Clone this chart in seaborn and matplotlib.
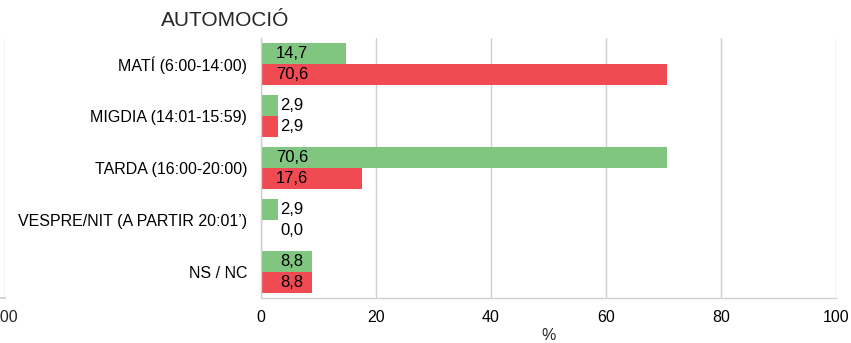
import pandas as pd
import matplotlib.pyplot as plt
import seaborn as sns

# Data
franges = ['MATÍ (6:00-14:00)', 'MIGDIA (14:01-15:59)', 'TARDA (16:00-20:00)',
           'VESPRE/NIT (A PARTIR 20:01’)', 'NS / NC']
serie_a = [14.7, 2.9, 70.6, 2.9, 8.8]
serie_b = [70.6, 2.9, 17.6, 0.0, 8.8]
noms_series = ['Sèrie A', 'Sèrie B']
colors = ['#80C580', '#F04B53']

df = pd.DataFrame({
    'franja': franges * 2,
    'valor': serie_a + serie_b,
    'serie': [noms_series[0]] * len(franges) + [noms_series[1]] * len(franges),
})

sns.set_theme(style='white')
plt.rcParams['font.family'] = ['Liberation Sans', 'DejaVu Sans']
grey = '#D0D0D0'

fig = plt.figure(figsize=(8.51, 3.43), dpi=100)
ax = fig.add_axes([261 / 851, 45 / 343, 575 / 851, 260 / 343])

sns.barplot(data=df, y='franja', x='valor', hue='serie', order=franges,
            hue_order=noms_series, palette=colors, orient='h', width=0.8,
            linewidth=0, saturation=1, errorbar=None, legend=False, ax=ax)

ax.set_xlim(0, 100)
ax.set_ylim(4.5, -0.5)
ax.set_xticks([0, 20, 40, 60, 80, 100])
ax.grid(axis='x', color=grey, lw=1)
ax.set_axisbelow(True)
for s in ['top', 'right']:
    ax.spines[s].set_visible(False)
for s in ['left', 'bottom']:
    ax.spines[s].set_color(grey)
    ax.spines[s].set_linewidth(1)
ax.tick_params(axis='both', length=0, labelsize=11.5, colors='black')
ax.tick_params(axis='y', pad=10)
ax.tick_params(axis='x', pad=9)
ax.set_ylabel('')
ax.set_xlabel('%', fontsize=11.5, labelpad=2)

# value labels at a fixed spot near the base of each bar
for cont in ax.containers:
    for patch, v in zip(cont.patches, cont.datavalues):
        y = patch.get_y() + patch.get_height() / 2
        ax.text(5.4, y, f'{v:.1f}'.replace('.', ','), ha='center', va='center',
                fontsize=12, color='black')

ax.set_title('AUTOMOCIÓ', fontsize=15, x=-0.0626, y=1.013, ha='center')

# edge of the neighbouring chart, cut by the frame
ax0 = fig.add_axes([(5 - 575) / 851, 45 / 343, 575 / 851, 260 / 343])
ax0.set_xlim(0, 100)
ax0.set_yticks([])
ax0.set_xticks([100])
ax0.grid(axis='x', color=grey, lw=1)
for s in ['top', 'right', 'left']:
    ax0.spines[s].set_visible(False)
ax0.spines['bottom'].set_color(grey)
ax0.tick_params(axis='x', length=0, labelsize=11.5, pad=9)

fig.savefig('out.png', dpi=100)
